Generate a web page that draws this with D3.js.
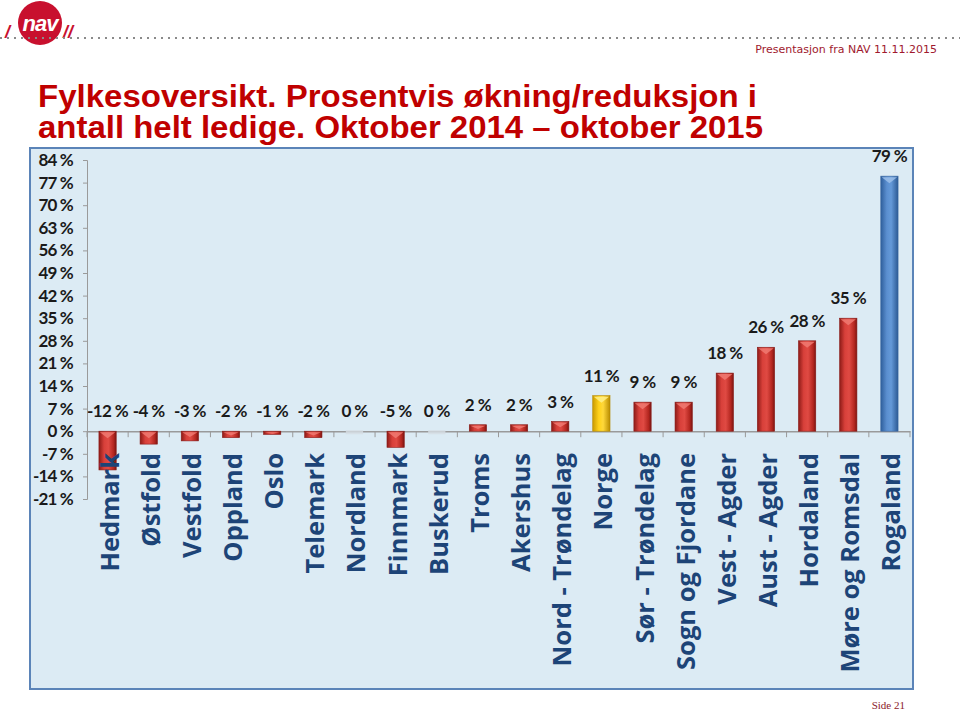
<!DOCTYPE html>
<html>
<head>
<meta charset="utf-8">
<script src="https://cdn.jsdelivr.net/npm/d3@7"></script>
<style>
  html, body { margin: 0; padding: 0; background: #ffffff; }
  svg { display: block; }
</style>
</head>
<body>
<svg id="chart" width="960" height="711"></svg>
<script>
// ---- data ----
const categories = ["Hedmark", "Østfold", "Vestfold", "Oppland", "Oslo", "Telemark", "Nordland",
  "Finnmark", "Buskerud", "Troms", "Akershus", "Nord - Trøndelag", "Norge", "Sør - Trøndelag",
  "Sogn og Fjordane", "Vest - Agder", "Aust - Agder", "Hordaland", "Møre og Romsdal", "Rogaland"];
const values = [-12, -4, -3, -2, -1, -2, 0, -5, 0, 2, 2, 3, 11, 9, 9, 18, 26, 28, 35, 79];
const yTicks = [-21, -14, -7, 0, 7, 14, 21, 28, 35, 42, 49, 56, 63, 70, 77, 84];
const titleLines = ["Fylkesoversikt. Prosentvis økning/reduksjon i",
  "antall helt ledige. Oktober 2014 – oktober 2015"];
const headerText = "Presentasjon fra NAV 11.11.2015";
const footerText = "Side 21";
const highlight = { "Norge": "gold", "Rogaland": "blue" };

// ---- drawing ----
const svg = d3.select("#chart");
const defs = svg.append("defs");

function hGrad(id, stops) {
  const g = defs.append("linearGradient").attr("id", id)
    .attr("x1", "0%").attr("x2", "100%").attr("y1", "0%").attr("y2", "0%");
  stops.forEach(s => g.append("stop").attr("offset", s[0]).attr("stop-color", s[1]));
}
hGrad("gRed", [["0%", "#8e1b17"], ["30%", "#d8403a"], ["55%", "#e04a43"], ["85%", "#b3261f"], ["100%", "#7a1512"]]);
hGrad("gGold", [["0%", "#c99a00"], ["35%", "#ffd21a"], ["60%", "#ffd83a"], ["100%", "#b98c00"]]);
hGrad("gBlue", [["0%", "#2f5f9c"], ["35%", "#5b8fd0"], ["60%", "#6499d8"], ["100%", "#2c5a94"]]);
const capColor = { red: "#f07a72", gold: "#fff08a", blue: "#9cc0ea" };

// Header: logo
const logo = svg.append("g");
logo.append("circle").attr("cx", 40).attr("cy", 23).attr("r", 22).attr("fill", "#c8102e");
logo.append("text").attr("x", 40).attr("y", 31).attr("text-anchor", "middle")
  .attr("font-family", "Liberation Sans, Arial, sans-serif").attr("font-weight", "bold")
  .attr("font-style", "italic")
  .attr("font-size", 22).attr("fill", "#ffffff").attr("letter-spacing", -1).text("nav");
logo.append("text").attr("x", 5).attr("y", 38).attr("font-family", "Liberation Sans, Arial, sans-serif")
  .attr("font-weight", "bold").attr("font-style", "italic").attr("font-size", 18).attr("fill", "#c8102e").text("/");
logo.append("text").attr("x", 63).attr("y", 38).attr("font-family", "Liberation Sans, Arial, sans-serif")
  .attr("font-weight", "bold").attr("font-style", "italic").attr("font-size", 18).attr("fill", "#c8102e")
  .text("//");

svg.append("line").attr("x1", 0).attr("x2", 960).attr("y1", 38).attr("y2", 38)
  .attr("stroke", "#8a8a8a").attr("stroke-width", 2).attr("stroke-dasharray", "2,5");

svg.append("text").attr("x", 937).attr("y", 53).attr("text-anchor", "end")
  .attr("font-family", "DejaVu Sans, Verdana, sans-serif").attr("font-size", 11)
  .attr("fill", "#a0192e").text(headerText);

// Title
const titleWidths = [719, 725];
svg.append("g").selectAll("text").data(titleLines).join("text")
  .attr("x", 38).attr("y", (d, i) => 107 + i * 31)
  .attr("font-family", "Liberation Sans, Arial, sans-serif").attr("font-weight", "bold")
  .attr("font-size", 31).attr("fill", "#c00000")
  .attr("textLength", (d, i) => titleWidths[i]).attr("lengthAdjust", "spacingAndGlyphs")
  .text(d => d);

// Chart panel
const panel = { x0: 30, x1: 913, y0: 148, y1: 689 };
svg.append("rect").attr("x", panel.x0).attr("y", panel.y0)
  .attr("width", panel.x1 - panel.x0).attr("height", panel.y1 - panel.y0)
  .attr("fill", "#dcebf4").attr("stroke", "#5b84b8").attr("stroke-width", 2);

// Scales
const y = d3.scaleLinear().domain([-21, 84]).range([499, 160]);
const x = d3.scaleBand().domain(categories).range([87, 910]).paddingInner(0).paddingOuter(0);
const barW = x.bandwidth() * 0.42;

// Y axis
const yAxis = d3.axisLeft(y).tickValues(yTicks).tickSize(4).tickPadding(10)
  .tickFormat(d => d + " %");
const gy = svg.append("g").attr("transform", "translate(87,0)").call(yAxis);
gy.select(".domain").attr("stroke", "#9a9a9a").attr("d", "M-4,160.5H0.5V499.5H-4");
gy.selectAll(".tick line").attr("stroke", "#9a9a9a");
gy.selectAll(".tick text").attr("font-family", "Lato, 'Open Sans', sans-serif").attr("font-weight", "bold")
  .attr("font-size", 17).attr("letter-spacing", -0.8).attr("fill", "#1a1a1a");

// Zero line with category ticks (X axis)
const xAxis = d3.axisBottom(x).tickSize(0).tickFormat("");
const gx = svg.append("g").attr("transform", `translate(0,${y(0)})`).call(xAxis);
gx.select(".domain").attr("stroke", "#9a9a9a").attr("stroke-width", 1.5);
gx.selectAll(".tick").remove();
const bounds = d3.range(categories.length + 1).map(i => x.range()[0] + i * x.step());
svg.append("g").selectAll("line").data(bounds).join("line")
  .attr("x1", d => d).attr("x2", d => d).attr("y1", y(0)).attr("y2", y(0) + 6)
  .attr("stroke", "#9a9a9a");

// Bars
const data = categories.map((c, i) => ({ c, v: values[i] }));
const bars = svg.append("g");
data.forEach(d => {
  const kind = highlight[d.c] || "red";
  const fill = kind === "gold" ? "url(#gGold)" : kind === "blue" ? "url(#gBlue)" : "url(#gRed)";
  const cx = x(d.c) + x.bandwidth() / 2;
  const top = y(Math.max(d.v, 0)), bot = y(Math.min(d.v, 0));
  const h = bot - top;
  if (d.v === 0) {
    bars.append("rect").attr("x", cx - barW / 2).attr("y", y(0) - 1).attr("width", barW).attr("height", 4)
      .attr("fill", "#d6dde4").attr("opacity", 0.8);
    return;
  }
  bars.append("rect").attr("x", cx - barW / 2).attr("y", top).attr("width", barW).attr("height", h)
    .attr("fill", fill).attr("stroke", kind === "blue" ? "#3a67a0" : kind === "gold" ? "#b68a00" : "#8a1a16")
    .attr("stroke-width", 0.6);
  const capH = Math.min(6, h / 2);
  bars.append("path")
    .attr("d", `M${cx - barW / 2 + 1},${top + 1}L${cx + barW / 2 - 1},${top + 1}L${cx},${top + 1 + capH}Z`)
    .attr("fill", capColor[kind]).attr("opacity", 0.85);
});

// Data labels
svg.append("g").selectAll("text").data(data).join("text")
  .attr("x", d => x(d.c) + x.bandwidth() / 2)
  .attr("y", d => y(Math.max(d.v, 0)) - 14)
  .attr("text-anchor", "middle")
  .attr("font-family", "Lato, 'Open Sans', sans-serif").attr("font-weight", "bold")
  .attr("font-size", 17).attr("letter-spacing", -0.6).attr("fill", "#1a1a1a")
  .text(d => d.v + " %");

// Category labels (rotated)
svg.append("g").selectAll("text").data(categories).join("text")
  .attr("transform", d => `translate(${x(d) + x.bandwidth() / 2 + 1},453) rotate(-90)`)
  .attr("text-anchor", "end").attr("dominant-baseline", "central")
  .attr("font-family", "'Open Sans', sans-serif").attr("font-weight", "bold")
  .attr("font-size", 25.5).attr("fill", "#1d4477")
  .text(d => d);

// Footer
svg.append("text").attr("x", 905).attr("y", 709).attr("text-anchor", "end")
  .attr("font-family", "Liberation Serif, 'Times New Roman', serif").attr("font-size", 11)
  .attr("fill", "#8b1a2a").text(footerText);
</script>
</body>
</html>
